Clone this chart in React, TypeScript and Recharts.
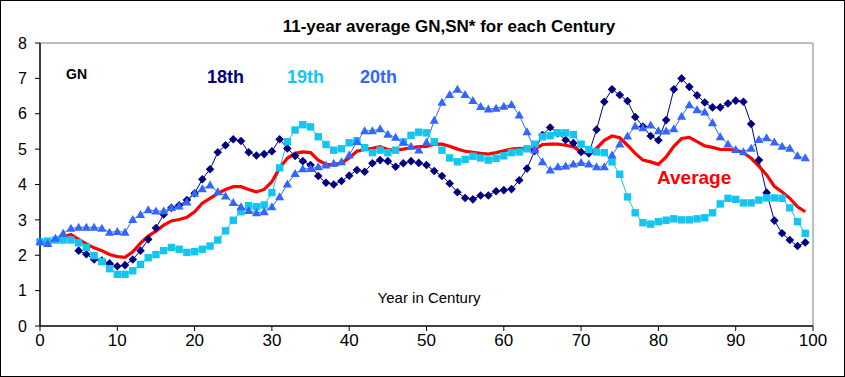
import React from 'react';
import { LineChart, Line, XAxis, YAxis, ReferenceLine } from 'recharts';

// year within the century (0..99)
const years = Array.from({ length: 100 }, (_, i) => i);

// 18th century, no values for the first five years
const gn18: (number | null)[] = [
  null, null, null, null, null, 2.13, 2.03, 1.88, 1.85, 1.77,
  1.69, 1.72, 1.88, 2.13, 2.45, 2.77, 3.15, 3.34, 3.41, 3.56,
  3.75, 4.15, 4.43, 4.91, 5.11, 5.28, 5.23, 4.91, 4.82, 4.86,
  4.94, 5.28, 5.02, 4.81, 4.66, 4.55, 4.24, 4.05, 4.0, 4.1,
  4.25, 4.41, 4.36, 4.6, 4.69, 4.66, 4.5, 4.6, 4.66, 4.61,
  4.55, 4.38, 4.24, 4.03, 3.78, 3.62, 3.58, 3.69, 3.69, 3.81,
  3.84, 3.87, 4.12, 4.45, 4.95, 5.4, 5.61, 5.45, 5.26, 5.17,
  4.92, 4.88, 5.55, 6.34, 6.69, 6.53, 6.36, 5.91, 5.64, 5.37,
  5.25, 5.82, 6.69, 7.0, 6.76, 6.52, 6.32, 6.18, 6.18, 6.29,
  6.37, 6.34, 5.71, 4.69, 3.77, 2.98, 2.62, 2.43, 2.26, 2.36,
];

const gn19 = [
  2.38, 2.4, 2.43, 2.43, 2.43, 2.35, 2.22, 1.99, 1.82, 1.62,
  1.46, 1.46, 1.56, 1.74, 1.93, 2.02, 2.13, 2.22, 2.17, 2.08,
  2.1, 2.17, 2.26, 2.43, 2.69, 2.99, 3.23, 3.4, 3.37, 3.42,
  3.77, 4.47, 5.21, 5.54, 5.69, 5.63, 5.35, 5.13, 4.97, 5.01,
  5.18, 5.24, 5.04, 4.9, 4.97, 4.9, 4.97, 5.2, 5.39, 5.48,
  5.46, 5.21, 4.97, 4.75, 4.64, 4.71, 4.8, 4.75, 4.69, 4.74,
  4.81, 4.9, 4.92, 5.01, 5.14, 5.35, 5.38, 5.46, 5.46, 5.41,
  5.14, 4.99, 4.92, 4.9, 4.64, 4.29, 3.65, 3.2, 2.92, 2.88,
  2.95, 2.99, 3.03, 3.0, 3.0, 3.03, 3.06, 3.2, 3.45, 3.61,
  3.58, 3.48, 3.48, 3.56, 3.62, 3.62, 3.61, 3.34, 2.95, 2.62,
];

const gn20 = [
  2.38, 2.33, 2.48, 2.62, 2.76, 2.79, 2.79, 2.79, 2.76, 2.65,
  2.67, 2.65, 3.01, 3.15, 3.28, 3.25, 3.25, 3.35, 3.39, 3.5,
  3.75, 3.88, 3.98, 3.79, 3.67, 3.49, 3.37, 3.26, 3.2, 3.23,
  3.37, 3.65, 4.01, 4.31, 4.44, 4.45, 4.5, 4.55, 4.6, 4.64,
  4.83, 5.21, 5.52, 5.52, 5.57, 5.42, 5.33, 5.19, 5.08, 4.97,
  5.19, 5.81, 6.32, 6.54, 6.69, 6.54, 6.37, 6.2, 6.13, 6.15,
  6.21, 6.26, 5.96, 5.49, 4.97, 4.64, 4.41, 4.5, 4.52, 4.58,
  4.62, 4.58, 4.5, 4.5, 4.83, 5.14, 5.37, 5.65, 5.6, 5.68,
  5.52, 5.51, 5.57, 5.93, 6.25, 6.11, 6.05, 5.74, 5.35, 5.14,
  4.99, 4.92, 5.02, 5.27, 5.32, 5.2, 5.08, 5.02, 4.81, 4.75,
];

const average = [
  2.38, 2.36, 2.43, 2.52, 2.59, 2.45, 2.32, 2.21, 2.13, 2.02,
  1.96, 1.94, 2.1, 2.34, 2.54, 2.68, 2.85, 2.97, 3.01, 3.07,
  3.23, 3.47, 3.61, 3.75, 3.86, 3.94, 3.94, 3.86, 3.79, 3.86,
  4.08, 4.47, 4.74, 4.88, 4.92, 4.9, 4.69, 4.57, 4.55, 4.6,
  4.75, 4.94, 4.99, 5.02, 5.07, 4.99, 4.97, 5.0, 5.04, 5.07,
  5.08, 5.14, 5.14, 5.08, 5.0, 4.94, 4.91, 4.88, 4.86, 4.9,
  4.95, 5.0, 5.02, 5.0, 5.0, 5.13, 5.14, 5.14, 5.11, 5.07,
  4.92, 4.88, 5.02, 5.25, 5.37, 5.32, 5.11, 4.88, 4.69, 4.64,
  4.57, 4.78, 5.08, 5.3, 5.33, 5.21, 5.09, 5.05, 4.99, 4.99,
  4.97, 4.9, 4.74, 4.52, 4.27, 3.95, 3.79, 3.61, 3.37, 3.23,
];

const xTicks = [0, 10, 20, 30, 40, 50, 60, 70, 80, 90, 100];
const yTicks = [0, 1, 2, 3, 4, 5, 6, 7, 8];

const data = years.map((year, i) => ({
  year,
  c18: gn18[i],
  c19: gn19[i],
  c20: gn20[i],
  avg: average[i],
}));

const C18 = '#000080';
const C19 = '#13C6F2';
const C20 = '#3366FF';
const CAVG = '#FF0000';
const FONT = '"Liberation Sans", Arial, sans-serif';

const Diamond = (props: any) => {
  const { cx, cy, value, index } = props;
  if (value == null || cx == null || cy == null) return <g key={index} />;
  const r = 4.3;
  return <path key={index} d={`M${cx},${cy - r}L${cx + r},${cy}L${cx},${cy + r}L${cx - r},${cy}Z`} fill={C18} />;
};

const Square = (props: any) => {
  const { cx, cy, value, index } = props;
  if (value == null || cx == null || cy == null) return <g key={index} />;
  return <rect key={index} x={cx - 3.7} y={cy - 3.7} width={7.4} height={7.4} fill={C19} />;
};

const Triangle = (props: any) => {
  const { cx, cy, value, index } = props;
  if (value == null || cx == null || cy == null) return <g key={index} />;
  return <path key={index} d={`M${cx},${cy - 4.6}L${cx + 4.6},${cy + 3.4}L${cx - 4.6},${cy + 3.4}Z`} fill={C20} />;
};

export default function App() {
  return (
    <div style={{ position: 'absolute', left: 0, top: 0, width: 845, height: 377, background: '#fff', fontFamily: FONT }}>
      <LineChart width={845} height={377} data={data} margin={{ top: 43, right: 32, bottom: 21, left: 0 }}>
        <XAxis
          dataKey="year"
          type="number"
          domain={[0, 100]}
          ticks={xTicks}
          interval={0}
          height={30}
          tickSize={5}
          tickMargin={3}
          axisLine={{ stroke: '#000', strokeWidth: 1.5 }}
          tickLine={{ stroke: '#000' }}
          tick={{ fill: '#000', fontSize: 17, fontFamily: FONT }}
        />
        <YAxis
          type="number"
          domain={[0, 8]}
          ticks={yTicks}
          interval={0}
          width={40}
          tickSize={5}
          tickMargin={8}
          axisLine={{ stroke: '#000', strokeWidth: 1.5 }}
          tickLine={{ stroke: '#000' }}
          tick={{ fill: '#000', fontSize: 16, fontFamily: FONT }}
        />
        <ReferenceLine y={8} stroke="#808080" />
        <ReferenceLine x={100} stroke="#808080" />
        <Line dataKey="c18" stroke={C18} strokeWidth={1} dot={Diamond} isAnimationActive={false} connectNulls={false} />
        <Line dataKey="c19" stroke={C19} strokeWidth={1} dot={Square} isAnimationActive={false} />
        <Line dataKey="c20" stroke={C20} strokeWidth={1} dot={Triangle} isAnimationActive={false} />
        <Line dataKey="avg" stroke={CAVG} strokeWidth={3.2} dot={false} isAnimationActive={false} />
      </LineChart>
      <svg width={845} height={377} style={{ position: 'absolute', left: 0, top: 0, pointerEvents: 'none' }}>
        <rect x={0.5} y={0.5} width={844} height={376} fill="none" stroke="#000" />
        <text x={449} y={32} textAnchor="middle" fontSize={17} fontWeight="bold" fontFamily={FONT} fill="#000">
          11-year average GN,SN* for each Century
        </text>
        <text x={66} y={79} fontSize={14} fontWeight="bold" fontFamily={FONT} fill="#000">GN</text>
        <text x={207} y={83} fontSize={18} fontWeight="bold" fontFamily={FONT} fill={C18}>18th</text>
        <text x={287} y={83} fontSize={18} fontWeight="bold" fontFamily={FONT} fill={C19}>19th</text>
        <text x={360} y={83} fontSize={18} fontWeight="bold" fontFamily={FONT} fill={C20}>20th</text>
        <text x={657} y={184} fontSize={19} fontWeight="bold" fontFamily={FONT} fill={CAVG}>Average</text>
        <text x={429} y={303} textAnchor="middle" fontSize={15} fontFamily={FONT} fill="#000">Year in Century</text>
      </svg>
    </div>
  );
}
